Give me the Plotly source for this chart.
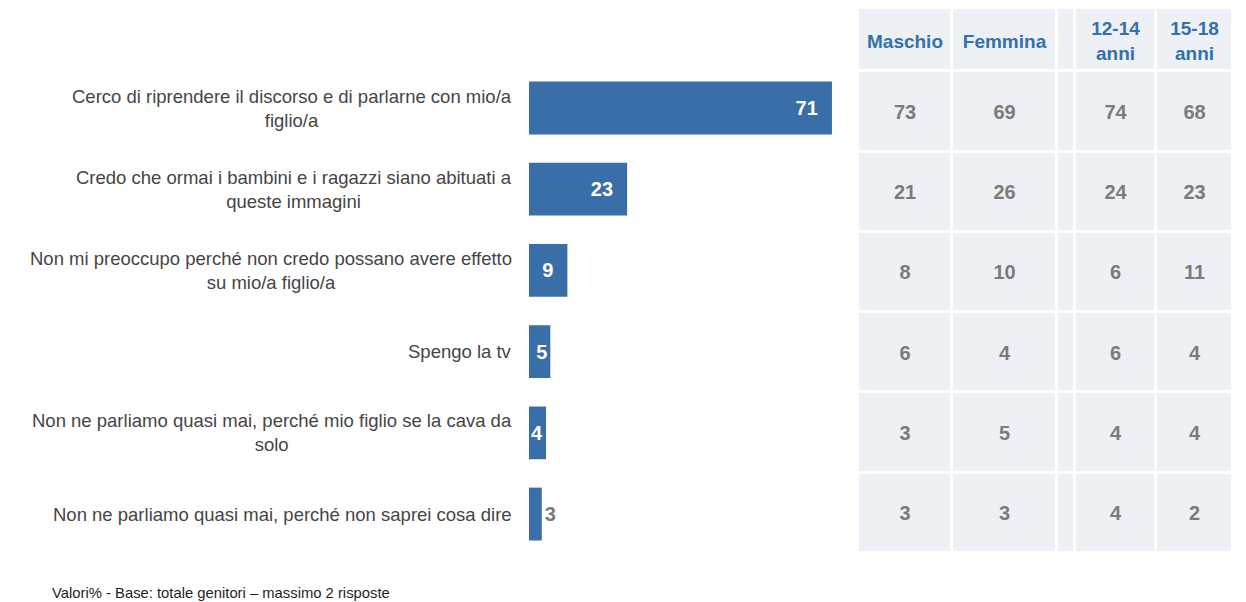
import plotly.graph_objects as go

# ---- data ----
categories = [
    "Cerco di riprendere il discorso e di parlarne con mio/a<br>figlio/a",
    "Credo che ormai i bambini e i ragazzi siano abituati a<br>queste immagini",
    "Non mi preoccupo perché non credo possano avere effetto<br>su mio/a figlio/a",
    "Spengo la tv",
    "Non ne parliamo quasi mai, perché mio figlio se la cava da<br>solo",
    "Non ne parliamo quasi mai, perché non saprei cosa dire",
]
totale = [71, 23, 9, 5, 4, 3]

col_headers = ["Maschio", "Femmina", "", "12-14<br>anni", "15-18<br>anni"]
maschio = [73, 21, 8, 6, 3, 3]
femmina = [69, 26, 10, 4, 5, 3]
anni_12_14 = [74, 24, 6, 6, 4, 4]
anni_15_18 = [68, 23, 11, 4, 4, 2]

footnote = "Valori% - Base: totale genitori \u2013 massimo 2 risposte"

# ---- style ----
W, H = 1246, 602
BAR_COLOR = "#3a6ea9"
HEAD_COLOR = "#3470aa"
VAL_COLOR = "#7b7b7b"
LABEL_COLOR = "#454545"
CELL_BG = "#edf1f6"
FONT = "Liberation Sans, Arial, sans-serif"

fig = go.Figure()

# bars
ids = list(range(len(categories)))
bar_text = [f"{v}\u00a0\u00a0" if v >= 9 else str(v) for v in totale]
fig.add_trace(go.Bar(
    x=totale, y=ids, orientation="h",
    marker=dict(color=BAR_COLOR, line=dict(width=0)),
    text=bar_text,
    textposition=["inside"] * 5 + ["outside"],
    insidetextanchor="end",
    constraintext="none",
    insidetextfont=dict(color="white", size=20, family=FONT, weight="bold"),
    outsidetextfont=dict(color=VAL_COLOR, size=20, family=FONT, weight="bold"),
    cliponaxis=False,
    hoverinfo="skip",
    xaxis="x", yaxis="y",
))

# category labels (right aligned block, centered lines)
for i, c in enumerate(categories):
    fig.add_annotation(
        x=514 / W, xref="paper", xanchor="right",
        y=i, yref="y", yanchor="middle",
        text=c, showarrow=False, align="center",
        font=dict(size=18.5, color=LABEL_COLOR, family=FONT),
    )

# table background as heatmap bricks
col_edges = [0, 94, 199, 217, 298, 375]
row_edges = [-0.79, 0, 1, 2, 3, 4, 5, 6]
z = [[1] * (len(col_edges) - 1) for _ in range(len(row_edges) - 1)]
fig.add_trace(go.Heatmap(
    x=col_edges, y=row_edges, z=z,
    colorscale=[[0, CELL_BG], [1, CELL_BG]], showscale=False,
    xgap=3, ygap=3, hoverinfo="skip",
    xaxis="x2", yaxis="y2",
))

col_centers = [(col_edges[i] + col_edges[i + 1]) / 2 for i in range(len(col_edges) - 1)]
row_centers = [i + 0.53 for i in range(len(categories))]

# header texts
hx = [col_centers[i] for i, h in enumerate(col_headers) if h]
ht = [h for h in col_headers if h]
fig.add_trace(go.Scatter(
    x=hx, y=[(row_edges[0] + row_edges[1]) / 2 + 0.04] * len(hx),
    mode="text", text=ht,
    textfont=dict(color=HEAD_COLOR, size=19, family=FONT, weight="bold"),
    hoverinfo="skip", xaxis="x2", yaxis="y2",
))

# value texts
for ci, vals in zip([0, 1, 3, 4], [maschio, femmina, anni_12_14, anni_15_18]):
    fig.add_trace(go.Scatter(
        x=[col_centers[ci]] * len(vals), y=row_centers,
        mode="text", text=[str(v) for v in vals],
        textfont=dict(color=VAL_COLOR, size=20, family=FONT, weight="bold"),
        hoverinfo="skip", xaxis="x2", yaxis="y2",
    ))

fig.add_annotation(
    x=50 / W, xref="paper", xanchor="left",
    y=1 - 593 / H, yref="paper", yanchor="middle",
    text=footnote, showarrow=False,
    font=dict(size=14.8, color="#1e1e1e", family=FONT),
)

fig.update_layout(
    width=W, height=H,
    margin=dict(l=0, r=0, t=0, b=0),
    paper_bgcolor="white", plot_bgcolor="rgba(0,0,0,0)",
    showlegend=False,
    bargap=0.35,
    font=dict(family=FONT),
    xaxis=dict(domain=[529 / W, 849 / W], range=[0, 75], visible=False, fixedrange=True),
    yaxis=dict(domain=[1 - 554.6 / H, 1 - 67.4 / H], range=[5.5, -0.5], visible=False, fixedrange=True),
    xaxis2=dict(domain=[858 / W, 1233 / W], range=[0, 375], visible=False, fixedrange=True),
    yaxis2=dict(domain=[1 - 553 / H, 1 - 8 / H], range=[6, -0.79], visible=False, fixedrange=True),
)

fig.write_html("out.html")
